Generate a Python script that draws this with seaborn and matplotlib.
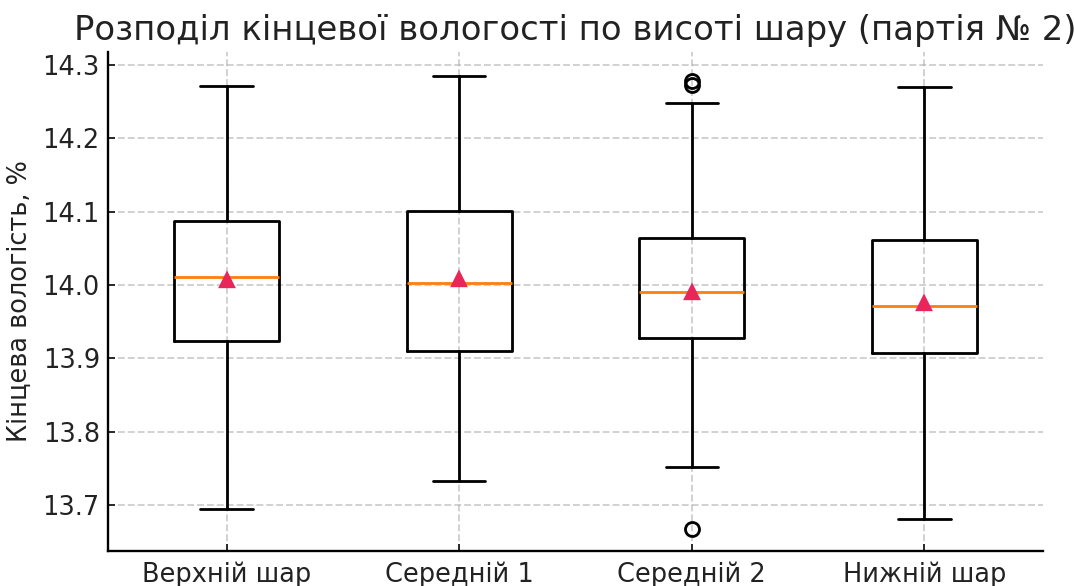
import matplotlib
matplotlib.use("Agg")
import matplotlib.pyplot as plt
import seaborn as sns

groups = ["Верхній шар", "Середній 1", "Середній 2", "Нижній шар"]
whislo = [13.694, 13.733, 13.752, 13.681]
q1 = [13.923, 13.910, 13.928, 13.907]
med = [14.011, 14.003, 13.990, 13.971]
q3 = [14.088, 14.101, 14.064, 14.061]
whishi = [14.272, 14.285, 14.248, 14.270]
means = [14.007, 14.008, 13.991, 13.975]
fliers = [[], [], [14.278, 14.273, 13.667], []]

title = "Розподіл кінцевої вологості по висоті шару (партія № 2)"
ylabel = "Кінцева вологість, %"

sns.set_style("white")
plt.rcParams["font.family"] = ["DejaVu Sans"]

fig = plt.figure(figsize=(1074 / 168, 586 / 168), dpi=168)
ax = fig.add_axes([108 / 1074, 1 - 551 / 586, (1043 - 108) / 1074, (551 - 52) / 586])

stats = []
for i, g in enumerate(groups):
    stats.append(dict(label=g, whislo=whislo[i], q1=q1[i], med=med[i], q3=q3[i],
                      whishi=whishi[i], mean=means[i], fliers=fliers[i]))

ax.bxp(stats, positions=[1, 2, 3, 4], widths=0.45, showmeans=True,
       boxprops=dict(color="black", linewidth=1.2),
       whiskerprops=dict(color="black", linewidth=1.2),
       capprops=dict(color="black", linewidth=1.2),
       medianprops=dict(color="#ff7f0e", linewidth=1.2),
       meanprops=dict(marker="^", markerfacecolor="#e8265a", markeredgecolor="#e8265a", markersize=6),
       flierprops=dict(marker="o", markerfacecolor="none", markeredgecolor="black", markersize=6, markeredgewidth=1.2))

ax.set_xlim(0.49, 4.51)
ax.set_ylim(13.637, 14.318)
ax.set_yticks([13.7, 13.8, 13.9, 14.0, 14.1, 14.2, 14.3])
ax.set_yticklabels(["13.7", "13.8", "13.9", "14.0", "14.1", "14.2", "14.3"])
ax.grid(True, linestyle="--", color="#b0b0b0", alpha=0.6, linewidth=0.8)
ax.set_axisbelow(True)
ax.tick_params(axis="both", direction="in", labelsize=11, length=3, width=0.8,
               colors="#222222", left=True, bottom=True)
ax.tick_params(axis="x", pad=4.5)
ax.tick_params(axis="y", pad=3.5)
ax.set_ylabel(ylabel, fontsize=11, color="#222222", labelpad=4)
ax.set_title(title, fontsize=14.5, color="#222222", pad=5)
for s in ["left", "bottom"]:
    ax.spines[s].set_color("black")
    ax.spines[s].set_linewidth(1.0)
sns.despine(ax=ax)

fig.savefig("out.png", dpi=168)
